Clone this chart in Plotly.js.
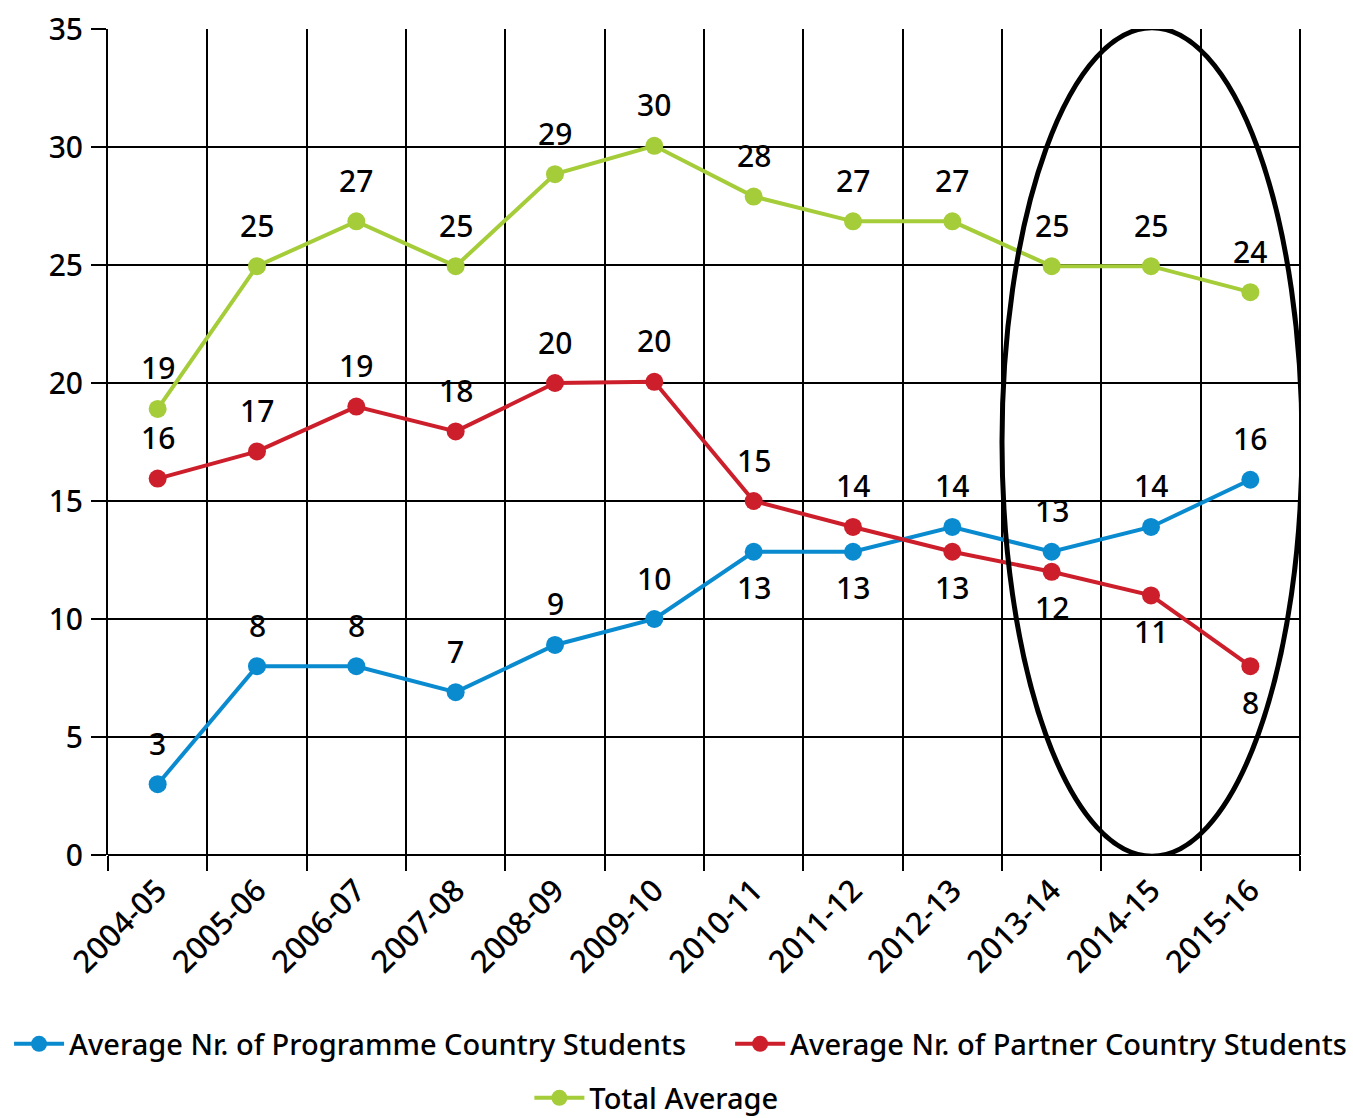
<!DOCTYPE html>
<html>
<head>
<meta charset="utf-8">
<script src="https://cdn.plot.ly/plotly-3.0.1.min.js"></script>
<style>html,body{margin:0;padding:0;background:#fff;}#chart{width:1353px;height:1118px;}</style>
</head>
<body>
<div id="chart"></div>
<script>
const years = ["2004-05","2005-06","2006-07","2007-08","2008-09","2009-10","2010-11","2011-12","2012-13","2013-14","2014-15","2015-16"];
const programmeStudents = [3.0, 8.0, 8.0, 6.9, 8.9, 10.0, 12.85, 12.85, 13.9, 12.85, 13.9, 15.9];
const partnerStudents = [15.95, 17.1, 19.0, 17.95, 20.0, 20.05, 15.0, 13.9, 12.85, 12.0, 11.0, 8.0];
const totalAverage = [18.9, 24.95, 26.85, 24.95, 28.85, 30.05, 27.9, 26.85, 26.85, 24.95, 24.95, 23.85];
const programmeLabelPos = ["top","top","top","top","top","top","bottom","bottom","top","top","top","top"];
const partnerLabelPos = ["top","top","top","top","top","top","top","top","bottom","bottom","bottom","bottom"];
const totalLabelPos = ["top","top","top","top","top","top","top","top","top","top","top","top"];

const FONT = "Noto Sans, sans-serif";
const WEIGHT = 500;
const series = [
  {name: "Average Nr. of Programme Country Students", y: programmeStudents, pos: programmeLabelPos, color: "#0A8BD0", legend: "legend"},
  {name: "Average Nr. of Partner Country Students", y: partnerStudents, pos: partnerLabelPos, color: "#CC1F2B", legend: "legend2"},
  {name: "Total Average", y: totalAverage, pos: totalLabelPos, color: "#A5CD39", legend: "legend3"}
];

const traces = series.map(s => ({
  type: "scatter", mode: "lines+markers", name: s.name, x: years, y: s.y,
  line: {color: s.color, width: 4},
  marker: {color: s.color, size: 18},
  cliponaxis: false, legend: s.legend
}));

const annotations = [];
series.forEach(s => {
  s.y.forEach((v, i) => {
    annotations.push({
      x: years[i], y: v, xref: "x", yref: "y", text: String(Math.round(v)),
      showarrow: false, yshift: s.pos[i] === "top" ? 41 : -36,
      font: {family: FONT, size: 30, color: "#000", weight: WEIGHT}
    });
  });
});

const legendFont = {family: FONT, size: 29, color: "#000", weight: WEIGHT};
const legendBase = {orientation: "h", xanchor: "left", yanchor: "middle", font: legendFont, itemwidth: 50, bgcolor: "rgba(0,0,0,0)"};
const layout = {
  width: 1353, height: 1118,
  margin: {l: 108, r: 53, t: 29, b: 263, autoexpand: false},
  paper_bgcolor: "#fff", plot_bgcolor: "#fff",
  font: {family: FONT, size: 28, color: "#000", weight: WEIGHT},
  showlegend: true,
  legend: Object.assign({}, legendBase, {x: -0.083, y: -0.2288}),
  legend2: Object.assign({}, legendBase, {x: 0.5219, y: -0.2288}),
  legend3: Object.assign({}, legendBase, {x: 0.3535, y: -0.2942}),
  xaxis: {
    type: "category", range: [-0.5, 11.5], tickson: "boundaries",
    showgrid: true, gridcolor: "#000", gridwidth: 2,
    ticks: "outside", ticklen: 15, tickwidth: 2, tickcolor: "#000",
    tickangle: -45, tickfont: {family: FONT, size: 31, color: "#000", weight: WEIGHT},
    ticklabelstandoff: 10,
    showline: false, zeroline: false, fixedrange: true, automargin: false
  },
  yaxis: {
    range: [0, 35], dtick: 5, tick0: 0,
    showgrid: true, gridcolor: "#000", gridwidth: 2,
    ticks: "outside", ticklen: 15, tickwidth: 2, tickcolor: "#000",
    tickfont: {family: FONT, size: 30, color: "#000", weight: WEIGHT},
    ticklabelstandoff: 2,
    showline: true, linecolor: "#000", linewidth: 2, mirror: false,
    zeroline: true, zerolinecolor: "#000", zerolinewidth: 2, fixedrange: true, automargin: false
  },
  shapes: [
    {type: "line", xref: "paper", yref: "paper", x0: 1, x1: 1, y0: 0, y1: 1, line: {color: "#000", width: 2}},
    {type: "circle", xref: "x", yref: "y", x0: 8.5, x1: 11.52, y0: -0.05, y1: 35.05,
     line: {color: "#000", width: 5}, layer: "above"}
  ],
  annotations: annotations
};

Plotly.newPlot("chart", traces, layout, {displayModeBar: false, staticPlot: true});
</script>
</body>
</html>
